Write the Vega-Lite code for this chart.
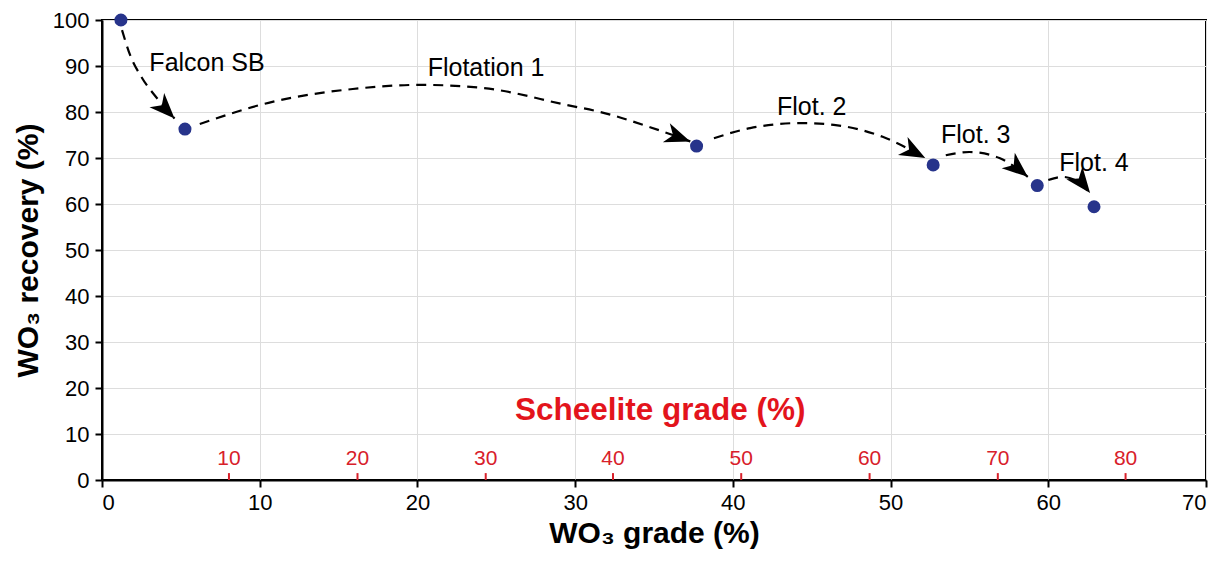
{
  "$schema": "https://vega.github.io/schema/vega-lite/v6.json",
  "width": 1104,
  "height": 460,
  "autosize": {"type": "none"},
  "padding": {"left": 102, "top": 20, "right": 23, "bottom": 83},
  "background": "white",
  "config": {
    "view": {"stroke": "black", "strokeWidth": 2},
    "font": "Liberation Sans",
    "axis": {
      "domainColor": "black", "domainWidth": 2,
      "tickColor": "black", "tickWidth": 2, "tickSize": 7,
      "labelFont": "Liberation Sans", "labelFontSize": 22, "labelColor": "black",
      "titleFont": "Liberation Sans", "titleFontSize": 30, "titleFontWeight": "bold", "titleColor": "black",
      "gridColor": "#dddddd", "gridWidth": 1
    }
  },
  "datasets": {
    "points": [
      {"grade": 1.2, "recovery": 100},
      {"grade": 5.26, "recovery": 76.3},
      {"grade": 37.7, "recovery": 72.6},
      {"grade": 52.7, "recovery": 68.5},
      {"grade": 59.3, "recovery": 64.0},
      {"grade": 62.9, "recovery": 59.4}
    ],
    "arcs": [
      {"arc": "a1", "ord": 1, "grade": 1.27, "recovery": 97.8},
      {"arc": "a1", "ord": 2, "grade": 1.78, "recovery": 92.4},
      {"arc": "a1", "ord": 3, "grade": 2.54, "recovery": 87.4},
      {"arc": "a1", "ord": 4, "grade": 3.49, "recovery": 83.0},
      {"arc": "a1", "ord": 5, "grade": 4.6, "recovery": 78.6},
      {"arc": "a2", "ord": 1, "grade": 6.2, "recovery": 77.4},
      {"arc": "a2", "ord": 2, "grade": 10.8, "recovery": 82.2},
      {"arc": "a2", "ord": 3, "grade": 15.9, "recovery": 85.0},
      {"arc": "a2", "ord": 4, "grade": 20.2, "recovery": 85.9},
      {"arc": "a2", "ord": 5, "grade": 24.2, "recovery": 85.2},
      {"arc": "a2", "ord": 6, "grade": 29.5, "recovery": 81.5},
      {"arc": "a2", "ord": 7, "grade": 31.6, "recovery": 80.0},
      {"arc": "a2", "ord": 8, "grade": 34.75, "recovery": 76.7},
      {"arc": "a2", "ord": 9, "grade": 37.3, "recovery": 73.6},
      {"arc": "a3", "ord": 1, "grade": 38.8, "recovery": 74.3},
      {"arc": "a3", "ord": 2, "grade": 41.1, "recovery": 76.5},
      {"arc": "a3", "ord": 3, "grade": 44.3, "recovery": 77.6},
      {"arc": "a3", "ord": 4, "grade": 46.4, "recovery": 77.2},
      {"arc": "a3", "ord": 5, "grade": 49.5, "recovery": 74.6},
      {"arc": "a3", "ord": 6, "grade": 52.2, "recovery": 70.0},
      {"arc": "a4", "ord": 1, "grade": 53.5, "recovery": 70.6},
      {"arc": "a4", "ord": 2, "grade": 55.0, "recovery": 71.3},
      {"arc": "a4", "ord": 3, "grade": 56.9, "recovery": 70.0},
      {"arc": "a4", "ord": 4, "grade": 58.7, "recovery": 65.9},
      {"arc": "a5", "ord": 1, "grade": 60.0, "recovery": 65.2},
      {"arc": "a5", "ord": 2, "grade": 60.9, "recovery": 65.9},
      {"arc": "a5", "ord": 3, "grade": 61.7, "recovery": 65.2},
      {"arc": "a5", "ord": 4, "grade": 62.65, "recovery": 62.4}
    ],
    "heads": [
      {"grade": 4.6, "recovery": 78.6, "dir": 46},
      {"grade": 37.3, "recovery": 73.6, "dir": 20},
      {"grade": 52.2, "recovery": 70.0, "dir": 28},
      {"grade": 58.7, "recovery": 65.9, "dir": 40},
      {"grade": 62.65, "recovery": 62.4, "dir": 52}
    ],
    "labels": [
      {"label": "Falcon SB", "grade": 6.66, "recovery": 90.6},
      {"label": "Flotation 1", "grade": 24.35, "recovery": 89.6},
      {"label": "Flot. 2", "grade": 45.0, "recovery": 81.1},
      {"label": "Flot. 3", "grade": 55.4, "recovery": 75.0},
      {"label": "Flot. 4", "grade": 62.9, "recovery": 68.9}
    ],
    "scheelite": [
      {"scheelite": "10", "grade": 8.05},
      {"scheelite": "20", "grade": 16.2},
      {"scheelite": "30", "grade": 24.33},
      {"scheelite": "40", "grade": 32.4},
      {"scheelite": "50", "grade": 40.53},
      {"scheelite": "60", "grade": 48.67},
      {"scheelite": "70", "grade": 56.8},
      {"scheelite": "80", "grade": 64.9}
    ],
    "stitle": [
      {"label": "Scheelite grade (%)", "grade": 35.4, "recovery": 15}
    ]
  },
  "layer": [
    {
      "data": {"name": "points"},
      "mark": {"type": "point", "opacity": 0},
      "encoding": {
        "x": {"field": "grade", "type": "quantitative", "scale": {"domain": [0, 70], "nice": false},
              "axis": {"title": "WO₃ grade (%)", "values": [0,10,20,30,40,50,60,70], "labelPadding": 5, "titlePadding": 5}},
        "y": {"field": "recovery", "type": "quantitative", "scale": {"domain": [0, 100], "nice": false},
              "axis": {"title": "WO₃ recovery (%)", "values": [0,10,20,30,40,50,60,70,80,90,100], "labelPadding": 6, "titlePadding": 9}}
      }
    },
    {
      "data": {"name": "scheelite"},
      "mark": {"type": "rule", "color": "#d8202a", "strokeWidth": 2},
      "encoding": {
        "x": {"field": "grade", "type": "quantitative"},
        "y": {"datum": 0},
        "y2": {"datum": 1.5}
      }
    },
    {
      "data": {"name": "scheelite"},
      "mark": {"type": "text", "color": "#d8202a", "fontSize": 21, "baseline": "bottom", "dy": -11, "font": "Liberation Sans"},
      "encoding": {
        "x": {"field": "grade", "type": "quantitative"},
        "y": {"datum": 0},
        "text": {"field": "scheelite"}
      }
    },
    {
      "data": {"name": "stitle"},
      "mark": {"type": "text", "color": "#e3141c", "fontSize": 31.5, "fontWeight": "bold", "baseline": "middle", "font": "Liberation Sans"},
      "encoding": {
        "x": {"field": "grade", "type": "quantitative"},
        "y": {"field": "recovery", "type": "quantitative"},
        "text": {"field": "label"}
      }
    },
    {
      "data": {"name": "arcs"},
      "mark": {"type": "line", "color": "black", "strokeWidth": 2.2, "strokeDash": [10, 7], "interpolate": "monotone"},
      "encoding": {
        "x": {"field": "grade", "type": "quantitative"},
        "y": {"field": "recovery", "type": "quantitative"},
        "detail": {"field": "arc"},
        "order": {"field": "ord"}
      }
    },
    {
      "data": {"name": "heads"},
      "mark": {"type": "point", "shape": "M0,0 L-1,-0.4 L-0.72,0 L-1,0.4 Z", "filled": true, "color": "black", "opacity": 1, "size": 2600},
      "encoding": {
        "x": {"field": "grade", "type": "quantitative"},
        "y": {"field": "recovery", "type": "quantitative"},
        "angle": {"field": "dir", "type": "quantitative", "scale": null}
      }
    },
    {
      "data": {"name": "points"},
      "mark": {"type": "circle", "color": "#27348b", "opacity": 1, "size": 170},
      "encoding": {
        "x": {"field": "grade", "type": "quantitative"},
        "y": {"field": "recovery", "type": "quantitative"}
      }
    },
    {
      "data": {"name": "labels"},
      "mark": {"type": "text", "color": "black", "fontSize": 25, "baseline": "middle", "align": "center", "font": "Liberation Sans"},
      "encoding": {
        "x": {"field": "grade", "type": "quantitative"},
        "y": {"field": "recovery", "type": "quantitative"},
        "text": {"field": "label"}
      }
    }
  ]
}
